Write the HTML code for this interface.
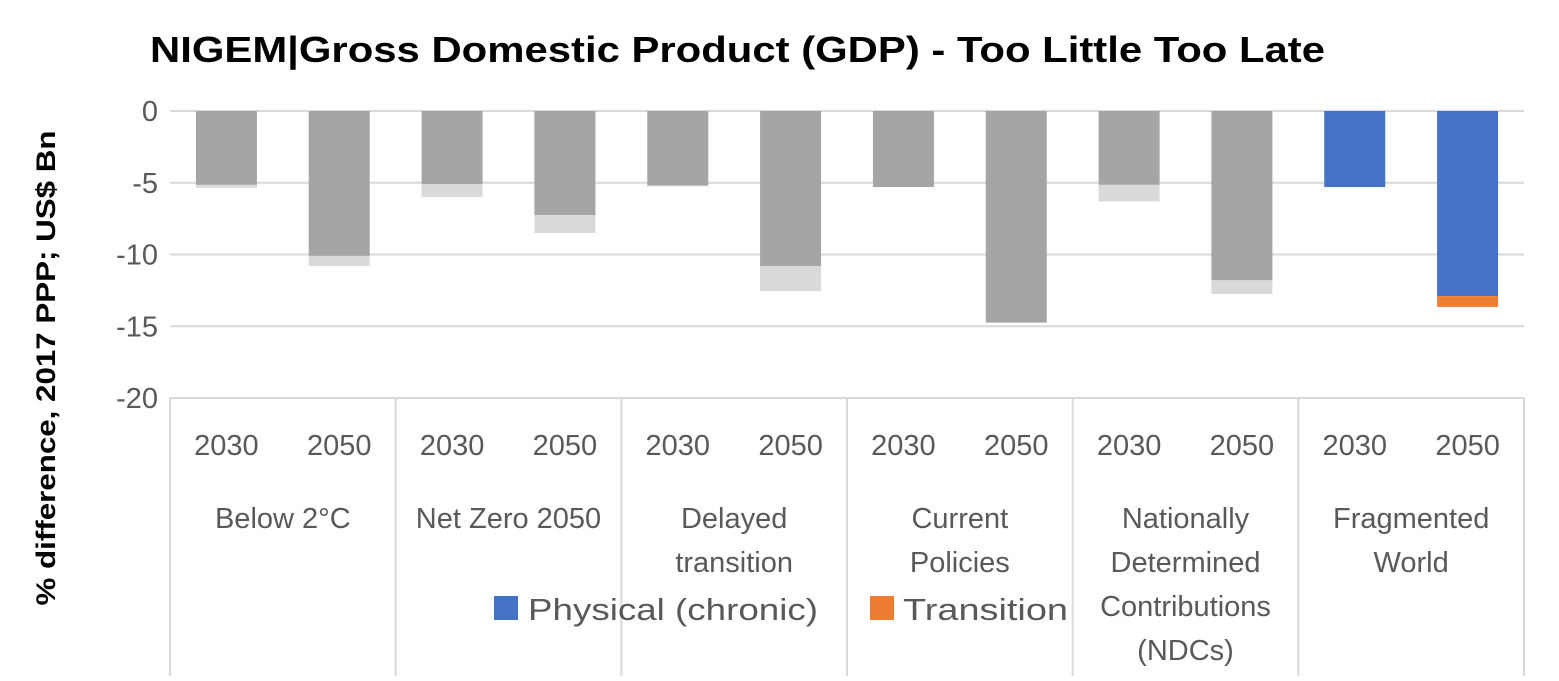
<!DOCTYPE html>
<html><head><meta charset="utf-8"><style>
body{margin:0;background:#fff;}
svg text{font-family:"Liberation Sans","DejaVu Sans",sans-serif;}
</style></head><body>
<svg id="chart" width="1559" height="676" viewBox="0 0 1559 676" xmlns="http://www.w3.org/2000/svg">
<text x="150" y="62" font-size="36" font-weight="bold" fill="#000" textLength="1175" lengthAdjust="spacingAndGlyphs">NIGEM|Gross Domestic Product (GDP) - Too Little Too Late</text>
<text transform="translate(55,368) rotate(-90)" text-anchor="middle" font-size="27" font-weight="bold" fill="#000" textLength="475" lengthAdjust="spacingAndGlyphs">% difference,  2017 PPP; US$ Bn</text>
<g id="grid"></g><g id="bars"></g><g id="xlabels"></g>
<g>
<rect x="494" y="596" width="24" height="24" fill="#4472c4"/>
<text x="528" y="620" font-size="31" fill="#595959" textLength="290" lengthAdjust="spacingAndGlyphs">Physical (chronic)</text>
<rect x="870" y="596" width="24" height="24" fill="#ed7d31"/>
<text x="903" y="620" font-size="31" fill="#595959" textLength="165" lengthAdjust="spacingAndGlyphs">Transition</text>
</g>
</svg>
<script>
const groups=[["Below 2°C"],["Net Zero 2050"],["Delayed","transition"],["Current","Policies"],["Nationally","Determined","Contributions","(NDCs)"],["Fragmented","World"]];
const years=["2030","2050"];
const physical=[-5.15,-10.1,-5.1,-7.25,-5.2,-10.8,-5.3,-14.75,-5.15,-11.8,-5.3,-12.9];
const transition=[-0.2,-0.7,-0.9,-1.25,-0.05,-1.75,0,0,-1.15,-0.95,0,-0.75];
const yTicks=[0,-5,-10,-15,-20];
const NS="http://www.w3.org/2000/svg";
const x0=170,x1=1524,n=12,cw=(x1-x0)/n,bw=61;
const y=v=>111+(-v)*14.35;
const grid=document.getElementById('grid'),bars=document.getElementById('bars'),xl=document.getElementById('xlabels');
function mk(tag,attrs,parent){const e=document.createElementNS(NS,tag);for(const k in attrs)e.setAttribute(k,attrs[k]);parent.appendChild(e);return e;}
yTicks.forEach(t=>{
 const l=mk('line',{x1:x0,x2:x1,y1:y(t),y2:y(t),stroke:'#d9d9d9','stroke-width':2},grid);
 
 
 const tx=mk('text',{x:158,y:y(t)+10,'text-anchor':'end','font-size':29,fill:'#595959'},grid);
 tx.textContent=t;
 
 
});
for(let g=0;g<=groups.length;g++){
 const xx=x0+g*2*cw;
 const l=mk('line',{x1:xx,x2:xx,y1:y(-20),y2:676,stroke:'#d9d9d9','stroke-width':2},grid);
 
 
}
physical.forEach((p,i)=>{
 const fw=i>=10;
 const cx=x0+(i+0.5)*cw;
 const r=mk('rect',{x:cx-bw/2,y:y(0),width:bw,height:y(p)-y(0),fill:fw?'#4472c4':'#a5a5a5'},bars);
 
 
 const t=transition[i];
 if(t<0){
  const r2=mk('rect',{x:cx-bw/2,y:y(p),width:bw,height:y(p+t)-y(p),fill:fw?'#ed7d31':'#d9d9d9'},bars);
  
  
 }
 const yt=mk('text',{x:cx,y:455,'text-anchor':'middle','font-size':29,fill:'#595959'},xl);
 yt.textContent=years[i%2];
 
 
});
groups.forEach((lines,g)=>{
 const cx=x0+(g+0.5)*2*cw;
 lines.forEach((s,k)=>{
  const t=mk('text',{x:cx,y:528+k*44,'text-anchor':'middle','font-size':29,fill:'#595959'},xl);
  t.textContent=s;
  
  
 });
});
</script>
</body></html>
